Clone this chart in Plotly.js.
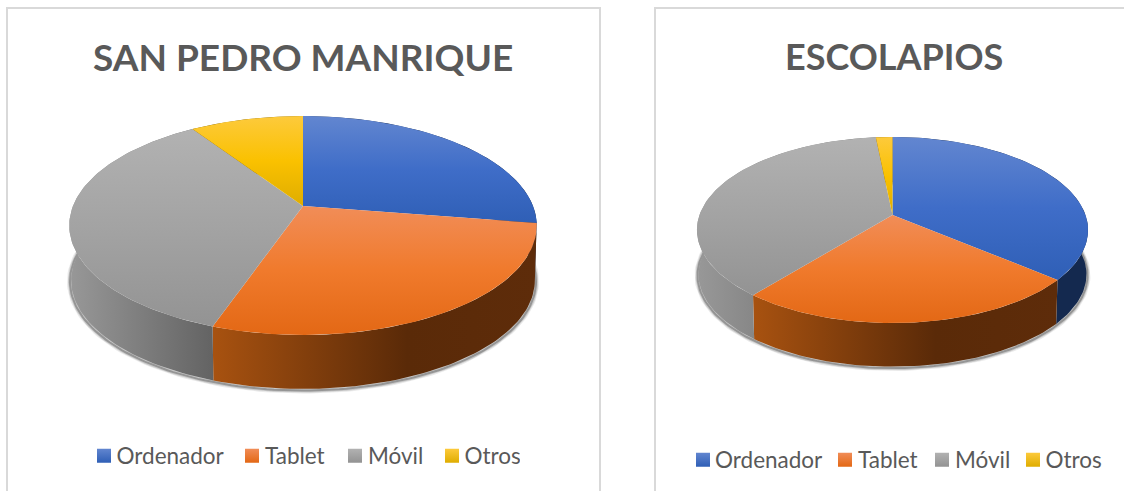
<!DOCTYPE html>
<html>
<head>
<meta charset="utf-8">
<script src="https://cdn.plot.ly/plotly-3.0.1.min.js"></script>
<style>html,body{margin:0;padding:0;background:#fff;overflow:hidden}#chart{width:1124px;height:491px}</style>
</head>
<body>
<div id="chart"></div>
<script>
const categories = ["Ordenador", "Tablet", "Móvil", "Otros"];
const sanPedroValues = [27.5, 27.8, 35.4, 9.3];
const escolapiosValues = [36.1, 24.8, 37.5, 1.6];
const titles = ["SAN PEDRO MANRIQUE", "ESCOLAPIOS"];

const topLight = ["#6286d0", "#f18d58", "#b2b2b2", "#fdca3c"];
const topBase = ["#3f6dc8", "#f07a2c", "#a3a3a3", "#fac100"];
const topDark = ["#2f5fb6", "#e36815", "#939393", "#dfad00"];
const wallStops = [
  [[0, "#14294f"], [1, "#14294f"]],
  [[0, "#a85210"], [0.6, "#5a2a08"], [1, "#5e2c0a"]],
  [[0, "#989898"], [1, "#636363"]],
  [[0, "#7a5c00"], [1, "#7a5c00"]]
];

const pies = [
  {values: sanPedroValues, cx: 303, cy: 206, A: 230, B: 106, k: 0.178, H: 55, legend: "legend"},
  {values: escolapiosValues, cx: 892.5, cy: 215, A: 193, B: 90.6, k: 0.161, H: 44.5, legend: "legend2"}
];

function project(p, deg, scale, drop) {
  const t = deg * Math.PI / 180, u = Math.sin(t), v = -Math.cos(t), w = 1 - p.k * v;
  return [p.cx + scale * p.A * u / w, p.cy + drop + scale * p.B * v / w];
}
function arc(p, a, b, scale, drop) {
  const n = Math.max(2, Math.ceil(Math.abs(b - a) / 1.5)), pts = [];
  for (let i = 0; i <= n; i++) pts.push(project(p, a + (b - a) * i / n, scale, drop));
  return pts;
}
function poly(pts, extra) {
  const closed = pts.concat([pts[0]]);
  return Object.assign({
    type: "scatter", mode: "lines", x: closed.map(q => q[0]), y: closed.map(q => q[1]),
    fill: "toself", line: {width: 0}, showlegend: false, hoverinfo: "text"
  }, extra);
}

const traces = [];
pies.forEach(p => {
  const total = p.values.reduce((a, b) => a + b, 0);

  // soft shadow round the lower rim
  [[6, 0.10], [4, 0.18], [2, 0.34]].forEach(s => {
    const ring = arc(p, 0, 360, 0.997, p.H + 1);
    traces.push({type: "scatter", mode: "lines", x: ring.map(q => q[0]), y: ring.map(q => q[1]),
      line: {width: s[0], color: "rgba(50,50,50," + s[1] + ")"}, showlegend: false, hoverinfo: "skip"});
  });

  // side walls
  let a = 0;
  p.values.forEach((val, i) => {
    const b = a + val / total * 360;
    const pts = arc(p, a, b, 1, 0).concat(arc(p, b, a, 0.992, p.H));
    traces.push(poly(pts, {
      text: categories[i] + ": " + val, fillcolor: wallStops[i][0][1],
      fillgradient: {type: "horizontal", colorscale: wallStops[i]}
    }));
    a = b;
  });

  // top surface
  a = 0;
  p.values.forEach((val, i) => {
    const b = a + val / total * 360;
    const pts = [[p.cx, p.cy]].concat(arc(p, a, b, 1, 0));
    traces.push(poly(pts, {
      text: categories[i] + ": " + val, fillcolor: topBase[i],
      fillgradient: {type: "vertical", colorscale: [[0, topDark[i]], [0.5, topBase[i]], [1, topLight[i]]]}
    }));
    a = b;
  });

  // legend entries
  categories.forEach((c, i) => {
    traces.push({type: "scatter", mode: "markers", x: [null], y: [null], name: c, legend: p.legend,
      marker: {symbol: "square", size: 14, color: topLight[i], gradient: {type: "vertical", color: topDark[i]}}});
  });
});

const legendFont = {family: "Lato, sans-serif", size: 22.5, color: "#595959"};
const layout = {
  width: 1124, height: 491, margin: {l: 0, r: 0, t: 0, b: 0},
  paper_bgcolor: "#ffffff", plot_bgcolor: "#ffffff",
  xaxis: {range: [0, 1124], visible: false, fixedrange: true},
  yaxis: {range: [491, 0], visible: false, fixedrange: true},
  shapes: [
    {type: "rect", xref: "x", yref: "y", x0: 7, x1: 600, y0: 8, y1: 500, line: {color: "#d9d9d9", width: 2}, layer: "below"},
    {type: "rect", xref: "x", yref: "y", x0: 655, x1: 1140, y0: 8, y1: 500, line: {color: "#d9d9d9", width: 2}, layer: "below"}
  ],
  annotations: [
    {text: "<b>" + titles[0] + "</b>", xref: "x", yref: "y", x: 302.5, y: 56, showarrow: false,
      font: {family: "Lato, sans-serif", size: 37, color: "#595959"}},
    {text: "<b>" + titles[1] + "</b>", xref: "x", yref: "y", x: 893.5, y: 56, showarrow: false,
      font: {family: "Lato, sans-serif", size: 36, color: "#595959"}}
  ],
  legend: {orientation: "h", x: 60 / 1124, xanchor: "left", y: 1 - 456 / 491, yanchor: "middle", font: legendFont,
    bgcolor: "rgba(0,0,0,0)", itemclick: false, itemdoubleclick: false, traceorder: "normal"},
  legend2: {orientation: "h", x: 656 / 1124, xanchor: "left", y: 1 - 460 / 491, yanchor: "middle", font: legendFont,
    bgcolor: "rgba(0,0,0,0)", itemclick: false, itemdoubleclick: false, traceorder: "normal"},
  showlegend: true
};

// Office legends keep the swatch close to its label and pack entries tighter than Plotly does.
const legendPlacement = {
  legend: {swatch: [104, 252, 355, 452], label: [116.5, 265, 368, 464.5]},
  legend2: {swatch: [703, 845, 942, 1033], label: [715, 858, 955, 1045.5]}
};
const xlate = /translate\(([-\d.]+)[ ,]*([-\d.]+)\)/;
function placeLegends(gd) {
  Object.keys(legendPlacement).forEach(name => {
    const g = gd.querySelector("g." + name), pl = legendPlacement[name];
    if (!g) return;
    const origin = parseFloat(xlate.exec(g.getAttribute("transform"))[1]);
    g.querySelectorAll("g.traces").forEach((it, i) => {
      const n = xlate.exec(it.getAttribute("transform"));
      const itemX = pl.swatch[i] - 20 - origin;
      it.setAttribute("transform", "translate(" + itemX + "," + n[2] + ")");
      const t = it.querySelector("." + name + "text");
      if (t) t.setAttribute("x", pl.label[i] - origin - itemX);
    });
  });
}
Plotly.newPlot("chart", traces, layout, {displayModeBar: false}).then(gd => {
  placeLegends(gd);
  requestAnimationFrame(() => placeLegends(gd));
});
</script>
</body>
</html>
